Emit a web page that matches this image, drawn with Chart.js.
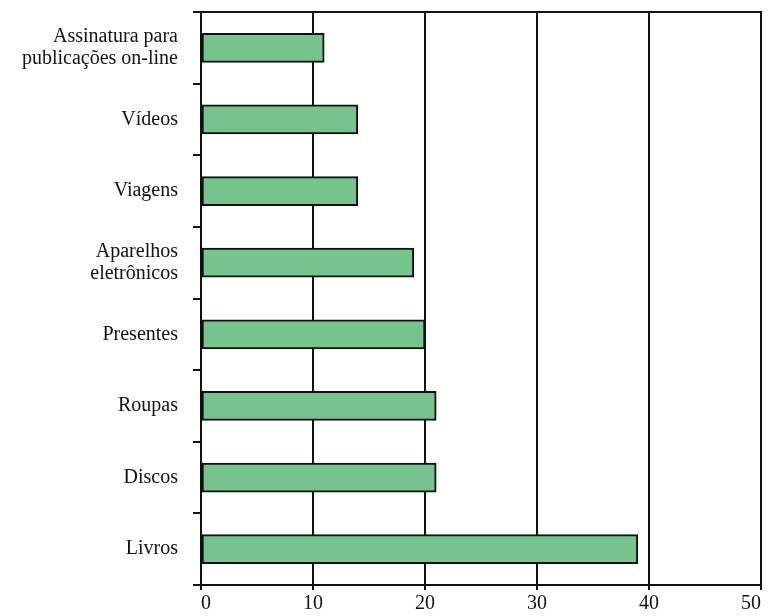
<!DOCTYPE html>
<html>
<head>
<meta charset="utf-8">
<script src="https://cdn.jsdelivr.net/npm/chart.js@4"></script>
<style>
  html, body { margin: 0; padding: 0; background: #fff; }
  #wrap { width: 768px; height: 616px; }
</style>
</head>
<body>
<div id="wrap"><canvas id="myChart"></canvas></div>
<script>
const categories = [
  ['Assinatura para', 'publicações on-line'],
  'Vídeos',
  'Viagens',
  ['Aparelhos', 'eletrônicos'],
  'Presentes',
  'Roupas',
  'Discos',
  'Livros'
];
const values = [11, 14, 14, 19, 20, 21, 21, 39];
const xTicks = [0, 10, 20, 30, 40, 50];

const serif = "'Liberation Serif', 'DejaVu Serif', serif";

const ctx = document.getElementById('myChart');
new Chart(ctx, {
  type: 'bar',
  data: {
    labels: categories,
    datasets: [{
      data: values,
      backgroundColor: '#75c48e',
      borderColor: '#111',
      borderWidth: 2,
      borderSkipped: false,
      barThickness: 29
    }]
  },
  options: {
    indexAxis: 'y',
    responsive: true,
    maintainAspectRatio: false,
    animation: false,
    layout: { padding: { top: 12, left: 0, right: 0, bottom: 0 } },
    plugins: {
      legend: { display: false },
      tooltip: { enabled: false }
    },
    scales: {
      x: {
        position: 'bottom',
        min: 0,
        max: 50,
        afterBuildTicks: (scale) => {
          scale.ticks = xTicks.map(v => ({ value: v }));
        },
        afterFit: (scale) => {
          scale.height = 31;
          scale.paddingLeft = 0;
          scale.paddingRight = 7;
        },
        ticks: {
          color: '#111',
          padding: 2,
          maxRotation: 0,
          align: 'inner',
          font: { family: serif, size: 20 }
        },
        grid: {
          color: '#111',
          lineWidth: 2,
          tickLength: 5
        },
        border: { color: '#111', width: 2 }
      },
      xTop: {
        position: 'top',
        min: 0,
        max: 50,
        afterFit: (scale) => {
          scale.height = 0;
          scale.paddingLeft = 0;
          scale.paddingRight = 7;
        },
        ticks: { display: false },
        grid: { display: false, drawTicks: false },
        border: { display: true, color: '#111', width: 2 }
      },
      y: {
        offset: true,
        afterFit: (scale) => {
          scale.width = 201;
          scale.paddingTop = 0;
          scale.paddingBottom = 0;
        },
        ticks: {
          color: '#111',
          padding: 15,
          font: { family: serif, size: 20, lineHeight: 1.1 }
        },
        grid: {
          offset: true,
          drawOnChartArea: false,
          drawTicks: true,
          tickLength: 8,
          color: '#111',
          lineWidth: 2
        },
        border: { color: '#111', width: 2 }
      }
    }
  }
});
</script>
</body>
</html>
